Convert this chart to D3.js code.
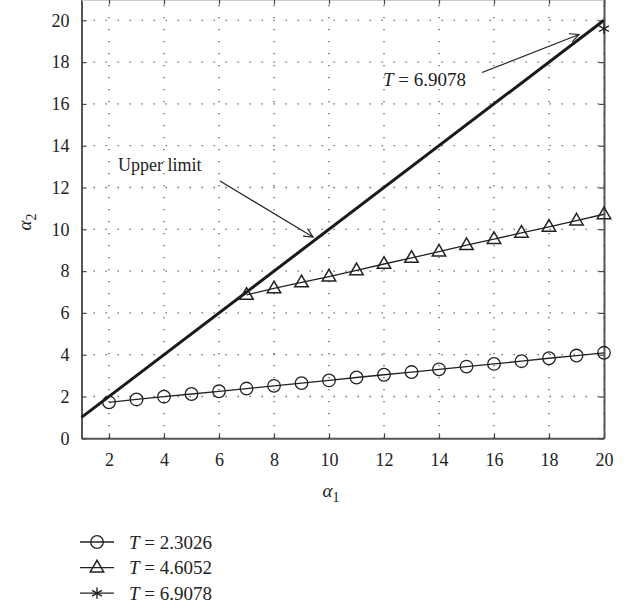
<!DOCTYPE html>
<html>
<head>
    <script src="https://cdnjs.cloudflare.com/ajax/libs/d3/7.8.5/d3.min.js"></script>
    <style>
        body { margin: 0; background: #fff; }
        svg { display: block; }
        text { font-family: "Liberation Serif", "DejaVu Serif", serif; fill: #222; }
        .tick text { font-size: 18px; font-family: "Liberation Serif", serif; }
        .grid line { stroke: #555; stroke-width: 1.3; stroke-dasharray: 1.3, 10.7; }
        .series { fill: none; stroke: #222; stroke-width: 1.3; }
    </style>
</head>
<body>
    <div id="chart"></div>
    <script>
        const width = 635, height = 608;

        // data
        const xTicks = [2, 4, 6, 8, 10, 12, 14, 16, 18, 20];
        const yTicks = [0, 2, 4, 6, 8, 10, 12, 14, 16, 18, 20];

        const circleX = [2, 3, 4, 5, 6, 7, 8, 9, 10, 11, 12, 13, 14, 15, 16, 17, 18, 19, 20];
        const circleY = [1.72, 1.86, 1.99, 2.12, 2.25, 2.38, 2.51, 2.64, 2.77, 2.91, 3.04, 3.17, 3.30, 3.43, 3.56, 3.69, 3.83, 3.96, 4.09];

        const triX = [7, 8, 9, 10, 11, 12, 13, 14, 15, 16, 17, 18, 19, 20];
        const triY = [6.86, 7.17, 7.46, 7.74, 8.04, 8.34, 8.63, 8.93, 9.24, 9.53, 9.83, 10.12, 10.42, 10.72];

        const starX = [20];
        const starY = [19.6];

        const upperX = [1, 20];
        const upperY = [1, 20];

        const legendLabels = ["T = 2.3026", "T = 4.6052", "T = 6.9078"];
        const legendSymbols = ["circle", "triangle", "star"];

        const svg = d3.select("#chart").append("svg").attr("width", width).attr("height", height);

        const x = d3.scaleLinear().domain([1, 20]).range([81.5, 604]);
        const y = d3.scaleLinear().domain([0, 21]).range([438.3, -0.6]);

        // dotted grid
        const grid = svg.append("g").attr("class", "grid");
        grid.selectAll(".gx").data(xTicks).enter().append("line")
            .attr("x1", d => x(d)).attr("x2", d => x(d))
            .attr("y1", y(0)).attr("y2", y(21));
        grid.selectAll(".gy").data(yTicks.slice(1)).enter().append("line")
            .attr("x1", x(1)).attr("x2", x(20))
            .attr("y1", d => y(d)).attr("y2", d => y(d));

        // axes with inward ticks
        const styleAxis = g => {
            g.attr("font-family", "Liberation Serif").attr("font-size", 18);
            g.select(".domain").attr("stroke", "#555").attr("stroke-width", 2);
            g.selectAll(".tick line").attr("stroke", "#444").attr("stroke-width", 1.2);
            g.selectAll(".tick text").attr("fill", "#222");
        };
        svg.append("g").attr("transform", `translate(0,${y(0)})`)
            .call(d3.axisBottom(x).tickValues(xTicks).tickSize(-5).tickPadding(15).tickSizeOuter(0))
            .call(styleAxis);
        svg.append("g").attr("transform", `translate(${x(1)},0)`)
            .call(d3.axisLeft(y).tickValues(yTicks).tickSize(-5).tickPadding(12).tickSizeOuter(0))
            .call(styleAxis);
        svg.append("g").attr("transform", `translate(${x(20)},0)`)
            .call(d3.axisRight(y).tickValues(yTicks).tickSize(-5).tickFormat("").tickSizeOuter(0))
            .call(styleAxis);
        svg.append("g").attr("transform", `translate(0,${y(21)})`)
            .call(d3.axisTop(x).tickValues(xTicks).tickSize(-5).tickFormat("").tickSizeOuter(0))
            .call(g => { styleAxis(g); g.select(".domain").attr("stroke", "#ccc"); });

        const line = d3.line().x(d => x(d[0])).y(d => y(d[1]));

        // upper limit
        svg.append("path")
            .datum(d3.zip(upperX, upperY))
            .attr("d", line)
            .attr("fill", "none").attr("stroke", "#1a1a1a").attr("stroke-width", 3);

        // series lines
        svg.append("path").datum(d3.zip(circleX, circleY)).attr("class", "series").attr("d", line);
        svg.append("path").datum(d3.zip(triX, triY)).attr("class", "series").attr("d", line);

        const triangle = d3.symbol().type(d3.symbolTriangle).size(78);
        const star = d3.symbol().type(d3.symbolAsterisk).size(90);

        svg.append("g").selectAll("circle").data(d3.zip(circleX, circleY)).enter().append("circle")
            .attr("cx", d => x(d[0])).attr("cy", d => y(d[1])).attr("r", 6.3)
            .attr("fill", "none").attr("stroke", "#222").attr("stroke-width", 1.3);

        svg.append("g").selectAll("path").data(d3.zip(triX, triY)).enter().append("path")
            .attr("d", triangle)
            .attr("transform", d => `translate(${x(d[0])},${y(d[1]) + 0.5})`)
            .attr("fill", "none").attr("stroke", "#222").attr("stroke-width", 1.5);

        svg.append("g").selectAll("path").data(d3.zip(starX, starY)).enter().append("path")
            .attr("d", star)
            .attr("transform", d => `translate(${x(d[0])},${y(d[1])})`)
            .attr("fill", "none").attr("stroke", "#222").attr("stroke-width", 1.4);

        // annotations
        const arrow = (x1, y1, x2, y2) => {
            const a = Math.atan2(y2 - y1, x2 - x1), L = 10, w = 0.45;
            svg.append("line").attr("x1", x1).attr("y1", y1).attr("x2", x2).attr("y2", y2)
                .attr("stroke", "#222").attr("stroke-width", 1.2);
            svg.append("path")
                .attr("d", `M${x2 - L * Math.cos(a - w)},${y2 - L * Math.sin(a - w)}L${x2},${y2}L${x2 - L * Math.cos(a + w)},${y2 - L * Math.sin(a + w)}`)
                .attr("fill", "none").attr("stroke", "#222").attr("stroke-width", 1.2);
        };

        svg.append("text").attr("x", 118).attr("y", 171).style("font-size", "18px").text("Upper limit");
        arrow(220, 181, 313, 237);

        const tl = svg.append("text").attr("x", 383).attr("y", 86).style("font-size", "19px");
        tl.append("tspan").style("font-style", "italic").text("T");
        tl.append("tspan").text(" = 6.9078");
        arrow(482, 72.5, 579, 34.5);

        // axis titles
        const xt = svg.append("text").attr("x", 331).attr("y", 497).attr("text-anchor", "middle").style("font-size", "19px");
        xt.append("tspan").style("font-style", "italic").text("α");
        xt.append("tspan").attr("dy", 5).style("font-size", "14px").text("1");

        const yt = svg.append("text").attr("transform", "translate(31,222) rotate(-90)").attr("text-anchor", "middle").style("font-size", "19px");
        yt.append("tspan").style("font-style", "italic").text("α");
        yt.append("tspan").attr("dy", 5).style("font-size", "14px").text("2");

        // legend
        const legend = svg.append("g").selectAll("g").data(legendLabels).enter().append("g")
            .attr("transform", (d, i) => `translate(0,${542 + i * 25.6})`);
        legend.append("line").attr("x1", 80).attr("x2", 114).attr("y1", 0).attr("y2", 0)
            .attr("stroke", "#222").attr("stroke-width", 1.3);
        legend.each(function (d, i) {
            const g = d3.select(this);
            const s = legendSymbols[i];
            if (s === "circle") {
                g.append("circle").attr("cx", 97).attr("cy", 0).attr("r", 6.3)
                    .attr("fill", "none").attr("stroke", "#222").attr("stroke-width", 1.3);
            } else if (s === "triangle") {
                g.append("path").attr("d", triangle).attr("transform", "translate(97,0.5)")
                    .attr("fill", "none").attr("stroke", "#222").attr("stroke-width", 1.5);
            } else {
                g.append("path").attr("d", star).attr("transform", "translate(97,0)")
                    .attr("fill", "none").attr("stroke", "#222").attr("stroke-width", 1.4);
            }
        });
        const lt = legend.append("text").attr("x", 129).attr("y", 6.5).style("font-size", "19px");
        lt.append("tspan").style("font-style", "italic").text("T");
        lt.append("tspan").text(d => d.slice(1));
    </script>
</body>
</html>
